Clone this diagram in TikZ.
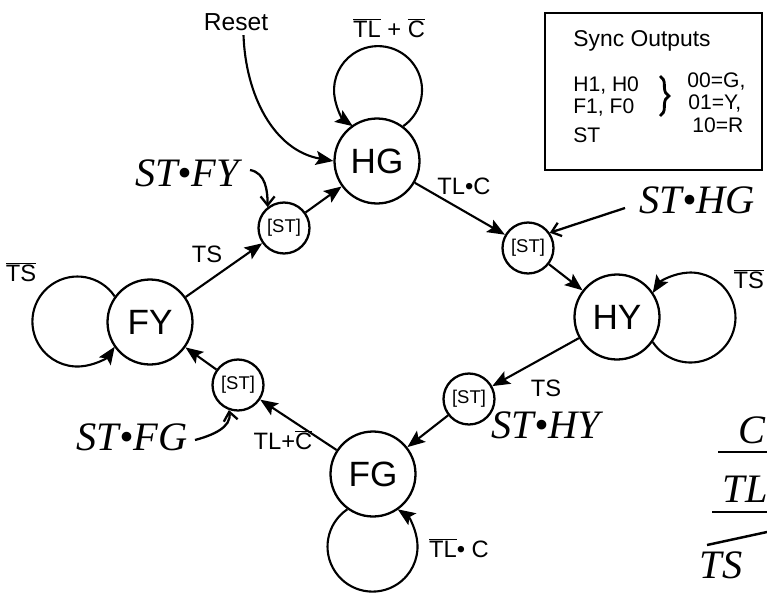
\documentclass[tikz,border=0pt]{standalone}
\usepackage{fontspec}
\setmainfont{Liberation Sans}
\newfontfamily\handfont{Liberation Serif}
\usepackage{tikz}
\usetikzlibrary{shapes,arrows.meta,positioning,decorations.pathreplacing}

\newcommand{\nt}[1]{$\overline{\mbox{#1}}$}
\newcommand{\hw}{\handfont\itshape\fontsize{23}{25}\selectfont}

\tikzset{
    fsm/.style={circle, draw, line width=1.3pt, minimum size=1.7cm, inner sep=0pt, font=\fontsize{20}{22}\selectfont},
    wait/.style={circle, draw, line width=1.3pt, minimum size=1.02cm, inner sep=0pt, font=\fontsize{10.5}{12}\selectfont},
    arrow/.style={-{Stealth[length=10pt,width=8pt,inset=2pt]}, line width=1.2pt},
    hand/.style={-{Straight Barb[length=5pt,width=8pt]}, line width=1.3pt},
    lbl/.style={font=\fontsize{13.5}{15}\selectfont, inner sep=1pt},
    note/.style={font=\hw, inner sep=1pt},
    sync/.style={font=\fontsize{12}{13}\selectfont, inner sep=0pt}
}

\begin{document}
\begin{tikzpicture}[x=0.02cm,y=0.02cm]
\clip (0,0) rectangle (767,593);
% Draw states
\foreach \n/\x/\y in {HG/377/432, HY/617/276, FG/373/119, FY/150/271} {
    \node[fsm] (\n) at (\x,\y) {\n};
}
% Draw wait states
\foreach \n/\x/\y in {sthg/528/345, sthy/469/194, stfg/238/208, stfy/284/365} {
    \node[wait] (\n) at (\x,\y) {[ST]};
}
% Transitions
\draw[arrow] (FY) -- (stfy);
\draw[arrow] (stfy) -- (HG);
\draw[arrow] (HG) -- (sthg);
\draw[arrow] (sthg) -- (HY);
\draw[arrow] (HY) -- (sthy);
\draw[arrow] (sthy) -- (FG);
\draw[arrow] (FG) -- (stfg);
\draw[arrow] (stfg) -- (FY);
% Self loops
\draw[arrow] (HG.53) arc[start angle=-55, end angle=235, radius=44];
\draw[arrow] (FY.144) arc[start angle=34, end angle=326, radius=45];
\draw[arrow] (HY.-35) arc[start angle=-147, end angle=147, radius=45];
\draw[arrow] (FG.234) arc[start angle=124, end angle=416, radius=45];
% Reset
\node[lbl, font=\fontsize{14}{16}\selectfont] (reset) at (236,571) {Reset};
\draw[arrow] ([xshift=0.15cm,yshift=-0.05cm]reset.south) to[out=-88, in=170] (HG.west);
% Transition labels
\node[lbl] (lts1) at (207,339) {TS};
\node[lbl] (ltlc) at (464,407) {TL•C};
\node[lbl] (lts2) at (546,205) {TS};
\node[lbl] (ltlnc) at (283,153) {TL+\nt{C}};
\node[lbl] (lhg) at (389,565) {\nt{TL} + \nt{C}};
\node[lbl] (lfy) at (21,321) {\nt{TS}};
\node[lbl, anchor=east] (lhy) at (766,314) {\nt{TS}};
\node[lbl] (lfg) at (459,45) {\nt{TL}• C};
% Handwritten notes
\node[note] (nfy) at (187,420) {ST•FY};
\node[note] (nhg) at (697,393) {ST•HG};
\node[note] (nhy) at (546,168) {ST•HY};
\node[note] (nfg) at (132,156) {ST•FG};
\coordinate (fytail) at (250,423);
\coordinate (hgtail) at (625,385);
\coordinate (fgtail) at (195,153);
\draw[hand] (fytail) to[out=-10, in=90] (stfy.128);
\draw[hand] (hgtail) -- (sthg.35);
\draw[hand] (fgtail) to[out=15, in=-80] (stfg.250);
% Sync outputs box
\draw[line width=1.5pt] (545,580) rectangle (762,423);
\node[sync, font=\fontsize{13}{15}\selectfont] (title) at (642,552) {Sync Outputs};
\node[sync, anchor=west] (hout) at (573,508) {H1, H0};
\node[sync, anchor=west] (fout) at (573,486) {F1, F0};
\node[sync, anchor=west] (stout) at (573,458) {ST};
\draw[decorate, decoration={brace, amplitude=5pt}, line width=1.6pt] (660,517) -- (660,477);
\node[sync, anchor=west] (gcode) at (687,512) {00=G,};
\node[sync, anchor=west] (ycode) at (688,490) {01=Y,};
\node[sync, anchor=west] (rcode) at (692,468) {10=R};
% Table notes at right
\node[note] (hc) at (752,163) {C};
\draw[line width=1.4pt] (718,141) -- (767,141);
\node[note] (htl) at (745,104) {TL};
\draw[line width=1.4pt] (712,81) -- (767,81);
\draw[line width=1.4pt] (707,48) -- (767,61);
\node[note] (hts) at (721,28) {TS};
\end{tikzpicture}
\end{document}
